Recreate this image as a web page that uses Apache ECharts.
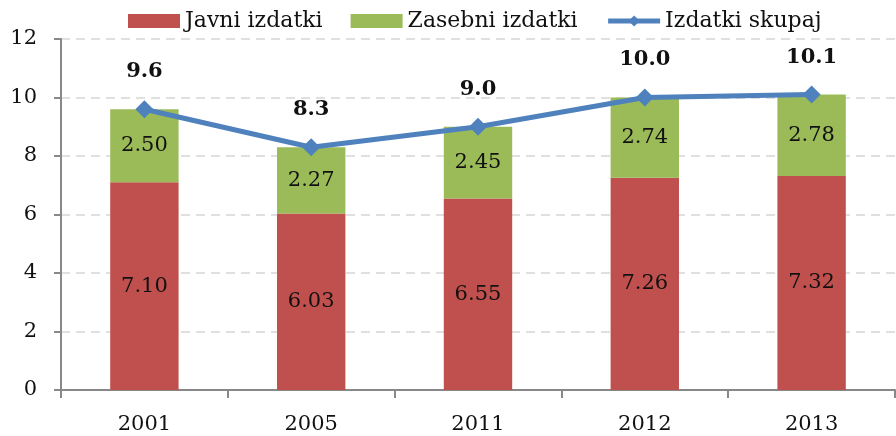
<!DOCTYPE html>
<html>
<head>
<meta charset="utf-8">
<script src="https://cdn.jsdelivr.net/npm/echarts@6/dist/echarts.min.js"></script>
<style>
  html, body { margin: 0; padding: 0; background: #fff; }
  #main { width: 896px; height: 436px; }
</style>
</head>
<body>
<div id="main"></div>
<script>
// data
const years = ['2001', '2005', '2011', '2012', '2013'];
const javni = [7.10, 6.03, 6.55, 7.26, 7.32];
const zasebni = [2.50, 2.27, 2.45, 2.74, 2.78];
const skupaj = [9.6, 8.3, 9.0, 10.0, 10.1];

const font = 'DejaVu Serif';
const fs = 21;
const myChart = echarts.init(document.getElementById('main'));

const options = {
  animation: false,
  textStyle: { fontFamily: font },
  legend: {
    top: 5,
    left: 123,
    itemWidth: 52,
    itemHeight: 14,
    itemGap: 28,
    textStyle: { fontFamily: font, fontSize: 22, color: '#111' },
    data: [
      { name: 'Javni izdatki', icon: 'rect' },
      { name: 'Zasebni izdatki', icon: 'rect' },
      { name: 'Izdatki skupaj', lineStyle: { width: 5 } }
    ]
  },
  grid: { left: 61, right: 1, top: 39, bottom: 46 },
  xAxis: {
    type: 'category',
    data: years,
    axisLine: { lineStyle: { color: '#888', width: 2 } },
    axisTick: { show: true, length: 8, lineStyle: { color: '#888', width: 2 } },
    axisLabel: { fontFamily: font, fontSize: fs, color: '#111', margin: 24 }
  },
  yAxis: {
    type: 'value',
    min: 0,
    max: 12,
    interval: 2,
    axisLine: { show: true, lineStyle: { color: '#888', width: 2 } },
    axisTick: { show: true, length: 7, lineStyle: { color: '#888', width: 2 } },
    axisLabel: { fontFamily: font, fontSize: fs, color: '#111', margin: 24 },
    splitLine: { lineStyle: { color: '#d6d6d6', type: [9, 6], width: 1.5 } }
  },
  series: [
    {
      name: 'Javni izdatki',
      type: 'bar',
      stack: 'total',
      barWidth: '41%',
      itemStyle: { color: '#C0504D' },
      label: {
        show: true,
        position: 'inside',
        fontFamily: font,
        fontSize: fs,
        color: '#111',
        formatter: p => p.value.toFixed(2)
      },
      data: javni
    },
    {
      name: 'Zasebni izdatki',
      type: 'bar',
      stack: 'total',
      itemStyle: { color: '#9BBB59' },
      label: {
        show: true,
        position: 'inside',
        fontFamily: font,
        fontSize: fs,
        color: '#111',
        formatter: p => p.value.toFixed(2)
      },
      data: zasebni
    },
    {
      name: 'Izdatki skupaj',
      type: 'line',
      symbol: 'diamond',
      symbolSize: 18,
      itemStyle: { color: '#4F81BD' },
      lineStyle: { color: '#4F81BD', width: 5 },
      label: {
        show: true,
        position: 'top',
        distance: 18,
        fontFamily: font,
        fontSize: fs,
        fontWeight: 'bold',
        color: '#111',
        formatter: p => p.value.toFixed(1)
      },
      data: skupaj
    }
  ]
};

myChart.setOption(options);
</script>
</body>
</html>
